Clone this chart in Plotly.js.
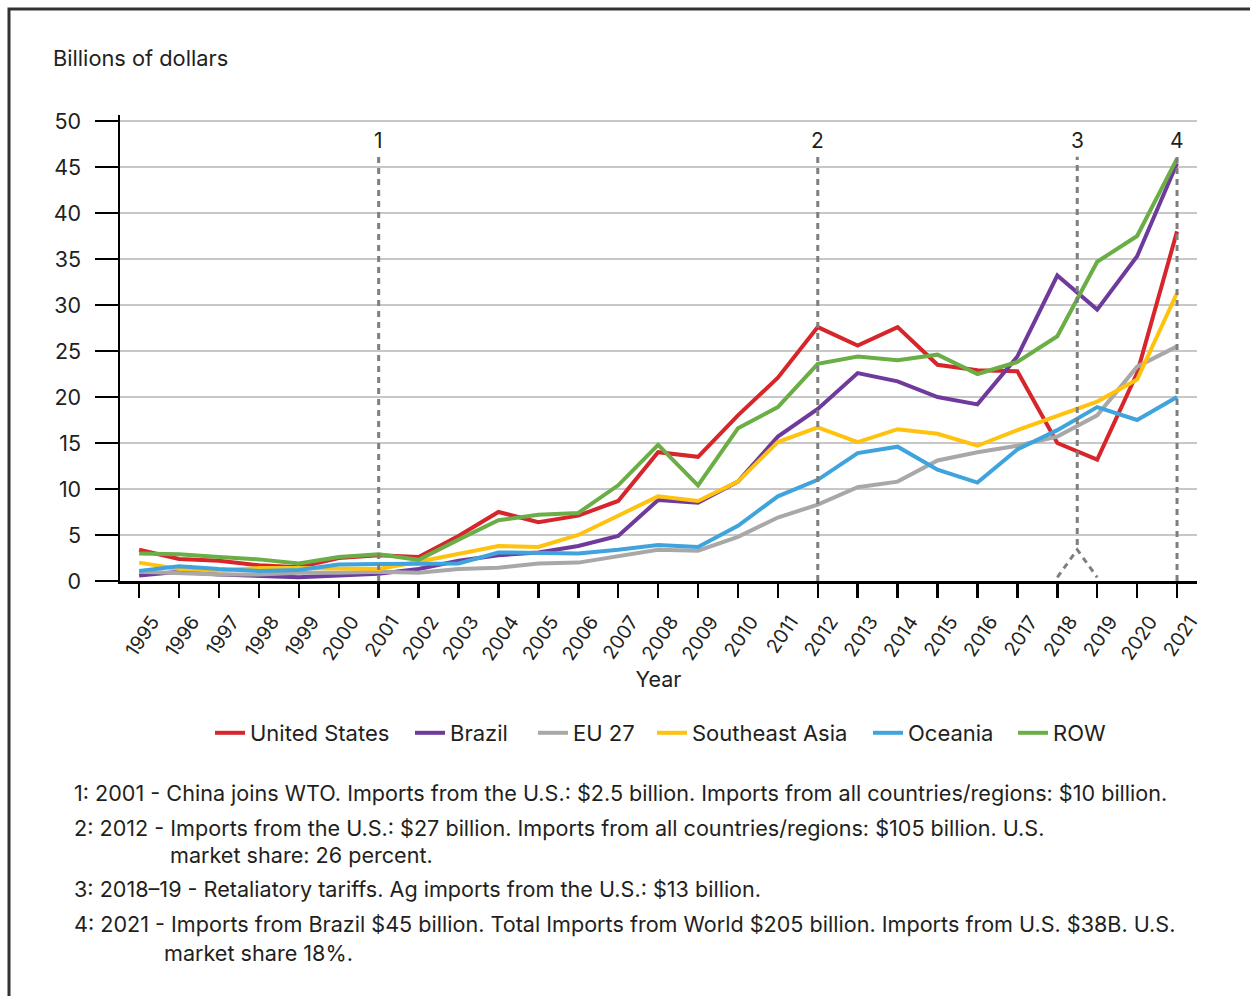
<!DOCTYPE html>
<html>
<head>
<meta charset="utf-8">
<script src="https://cdn.plot.ly/plotly-3.0.1.min.js"></script>
<style>
  html, body { margin: 0; padding: 0; background: #fff; overflow: hidden; }
  #chart { width: 1250px; height: 996px; }
</style>
</head>
<body>
<div id="chart"></div>
<script>
const years = [1995,1996,1997,1998,1999,2000,2001,2002,2003,2004,2005,2006,2007,2008,2009,2010,2011,2012,2013,2014,2015,2016,2017,2018,2019,2020,2021];

const seriesNames = ["United States", "Brazil", "EU 27", "Southeast Asia", "Oceania", "ROW"];
const usValues      = [3.4,2.4,2.2,1.7,1.5,2.5,2.8,2.6,4.9,7.5,6.4,7.1,8.7,14.0,13.5,18.0,22.1,27.6,25.6,27.6,23.5,22.9,22.8,15.0,13.2,22.6,38.0];
const brazilValues  = [0.6,1.0,0.7,0.5,0.4,0.6,0.8,1.3,2.2,2.8,3.1,3.8,4.9,8.8,8.5,10.8,15.7,18.7,22.6,21.7,20.0,19.2,24.4,33.2,29.5,35.3,45.4];
const eu27Values    = [1.0,0.8,0.7,0.7,0.9,0.9,1.0,0.9,1.3,1.45,1.9,2.0,2.7,3.4,3.3,4.8,6.9,8.3,10.2,10.8,13.1,14.0,14.7,15.7,18.0,23.3,25.5];
const seAsiaValues  = [2.0,1.3,1.15,1.4,1.4,1.3,1.3,2.1,2.9,3.8,3.7,5.0,7.1,9.2,8.7,10.8,15.1,16.7,15.1,16.5,16.0,14.7,16.4,17.9,19.5,21.9,31.3];
const oceaniaValues = [1.1,1.6,1.3,1.1,1.2,1.8,1.85,1.85,1.9,3.1,3.1,3.0,3.4,3.9,3.7,6.0,9.2,11.0,13.9,14.6,12.1,10.7,14.3,16.4,18.9,17.5,20.0];
const rowValues     = [3.0,2.9,2.6,2.35,1.9,2.6,2.9,2.3,4.5,6.6,7.2,7.4,10.4,14.8,10.4,16.6,18.9,23.6,24.4,24.0,24.6,22.5,23.8,26.6,34.7,37.5,45.9];

const seriesColors = ["#D7262B", "#6E3A9C", "#A8A8A8", "#FFC20E", "#3FA4DD", "#6AAE45"];

const yTickValues = [0,5,10,15,20,25,30,35,40,45,50];

const eventYears  = [2001, 2012, 2018.5, 2021];
const eventLabels = ["1", "2", "3", "4"];

const footnotes = [
  "1: 2001 - China joins WTO. Imports from the U.S.: $2.5 billion. Imports from all countries/regions: $10 billion.",
  "2: 2012 - Imports from the U.S.: $27 billion. Imports from all countries/regions: $105 billion. U.S.",
  "market share: 26 percent.",
  "3: 2018\u201319 - Retaliatory tariffs. Ag imports from the U.S.: $13 billion.",
  "4: 2021 - Imports from Brazil $45 billion. Total Imports from World $205 billion. Imports from U.S. $38B. U.S.",
  "market share 18%."
];

// ---- layout geometry (pixels) ----
const W = 1250, H = 996;
const M = { l: 120, r: 53, t: 115, b: 415 };
const plotW = W - M.l - M.r, plotH = H - M.t - M.b;
const px = x => (x - M.l) / plotW;           // page x -> paper x
const py = y => (H - M.b - y) / plotH;       // page y -> paper y

const FONT = "Inter, Roboto, 'Liberation Sans', Arial, sans-serif";
const TXT = "#231f20";

// left page-x of each legend line symbol
const legendLineX = [215, 415, 538, 657, 873, 1018];

const allValues = [usValues, brazilValues, eu27Values, seAsiaValues, oceaniaValues, rowValues];
const traces = allValues.map((vals, i) => ({
  type: "scatter",
  mode: "lines",
  x: years,
  y: vals,
  name: seriesNames[i],
  legend: i === 0 ? "legend" : "legend" + (i + 1),
  line: { color: seriesColors[i], width: 4, shape: "linear" },
  hoverinfo: "x+y+name"
}));

const DASH = "6px,5px";
const GREY = "#7f7f7f";
const shapes = [];
const annotations = [];

eventYears.forEach((yr, i) => {
  const bottom = (i === 2) ? 3.9 : 0;
  shapes.push({
    type: "line", xref: "x", yref: "y", layer: "above",
    x0: yr, x1: yr, y0: bottom, y1: 46.1,
    line: { color: GREY, width: 3, dash: DASH }
  });
  annotations.push({
    xref: "x", yref: "y", x: yr, y: 47.9, text: eventLabels[i],
    showarrow: false, font: { family: FONT, size: 21, color: TXT },
    xanchor: "center", yanchor: "middle"
  });
});
// branches of marker 3 (2018-19)
shapes.push({
  type: "path", xref: "x", yref: "y", layer: "above",
  path: "M 2018,0.4 L " + eventYears[2] + ",3.4 L 2019,0.4",
  line: { color: GREY, width: 3, dash: DASH }
});

// outer frame
shapes.push({
  type: "path", xref: "paper", yref: "paper", layer: "above",
  path: `M ${px(9)},${py(1100)} L ${px(9)},${py(9)} L ${px(1300)},${py(9)}`,
  line: { color: "#333333", width: 3 }
});

// y axis heading
annotations.push({
  xref: "paper", yref: "paper", x: px(51), y: py(58),
  text: "Billions of dollars", showarrow: false,
  xanchor: "left", yanchor: "middle",
  font: { family: FONT, size: 21.8, color: TXT }
});

// footnotes
const noteX = [72, 72, 168, 72, 72, 162];
const noteY = [793, 828, 855, 889, 924, 953];
footnotes.forEach((t, i) => {
  annotations.push({
    xref: "paper", yref: "paper", x: px(noteX[i]), y: py(noteY[i]),
    text: t, showarrow: false, xanchor: "left", yanchor: "middle",
    font: { family: FONT, size: 21.6, color: TXT }
  });
});

const layout = {
  width: W, height: H, autosize: false,
  margin: M,
  paper_bgcolor: "#ffffff", plot_bgcolor: "#ffffff",
  font: { family: FONT, size: 20, color: TXT },
  showlegend: true,
  xaxis: {
    range: [1994.52, 2021.5],
    tickmode: "array", tickvals: years, ticktext: years.map(String),
    tickangle: -56,
    ticks: "outside", ticklen: 14, tickwidth: 2.5, tickcolor: "#000",
    ticklabelshift: 13, ticklabelstandoff: 5,
    showline: true, linecolor: "#000", linewidth: 2.5,
    showgrid: false, zeroline: false,
    tickfont: { family: FONT, size: 19.5, color: TXT },
    title: { text: "Year", font: { family: FONT, size: 21.5, color: TXT }, standoff: 8 },
    fixedrange: true
  },
  yaxis: {
    range: [0, 50.65],
    tickmode: "array", tickvals: yTickValues,
    ticks: "outside", ticklen: 23, tickwidth: 2.5, tickcolor: "#000",
    ticklabelstandoff: 9,
    showline: true, linecolor: "#000", linewidth: 2.5,
    showgrid: true, gridcolor: "#c8c8c8", gridwidth: 1.2,
    zeroline: false,
    tickfont: { family: FONT, size: 21.5, color: TXT },
    fixedrange: true
  },
  shapes: shapes,
  annotations: annotations
};

legendLineX.forEach((lx, i) => {
  const key = i === 0 ? "legend" : "legend" + (i + 1);
  layout[key] = {
    orientation: "h", x: px(lx - 5), xanchor: "left",
    y: py(733), yanchor: "middle",
    bgcolor: "rgba(0,0,0,0)", borderwidth: 0,
    font: { family: FONT, size: 22, color: TXT },
    itemwidth: 30
  };
});

Plotly.newPlot("chart", traces, layout, { displayModeBar: false, staticPlot: true });
</script>
</body>
</html>
